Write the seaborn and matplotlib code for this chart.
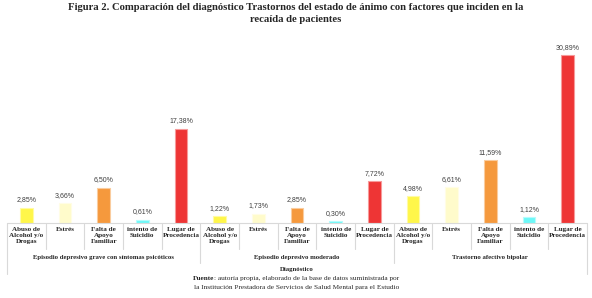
import pandas as pd
import numpy as np
import seaborn as sns
from matplotlib import pyplot as plt
from matplotlib import transforms

sns.set_theme(style="white")
plt.rcParams['font.family'] = ['Liberation Serif', 'DejaVu Serif']

# datos
grupos = ['Episodio depresivo grave con síntomas psicóticos',
          'Episodio depresivo moderado',
          'Trastorno afectivo bipolar']
factores = ['Abuso de\nAlcohol y/o\nDrogas', 'Estrés', 'Falta de\nApoyo\nFamiliar',
            'intento de\nSuicidio', 'Lugar de\nProcedencia']
grave = [2.85, 3.66, 6.50, 0.61, 17.38]
moderado = [1.22, 1.73, 2.85, 0.30, 7.72]
bipolar = [4.98, 6.61, 11.59, 1.12, 30.89]
colores = ['#FFF64A', '#FFFBCB', '#F5993D', '#6CF8F8', '#EE3535']

filas = []
for g, vals in zip(grupos, [grave, moderado, bipolar]):
    for f, v in zip(factores, vals):
        filas.append({'grupo': g, 'factor': f, 'valor': v, 'clave': g + '|' + f})
df = pd.DataFrame(filas)

fig = plt.figure(figsize=(5.92, 2.98), dpi=100)
H = 298.0
W = 592.0
x0, x1 = 7, 587
base, top = 223, 48
ax = fig.add_axes([x0 / W, 1 - base / H, (x1 - x0) / W, (base - top) / H])

sns.barplot(data=df, x='clave', y='valor', hue='factor', palette=colores,
            dodge=False, width=0.32, legend=False, ax=ax, linewidth=0.8,
            saturation=1)
for p in ax.patches:
    fc = np.array(p.get_facecolor()[:3])
    p.set_edgecolor(tuple(fc + (1 - fc) * 0.5))

for c in ax.containers:
    ax.bar_label(c, fmt=lambda v: f"{v:.2f}".replace('.', ',') + '%', padding=3,
                 fontsize=5, color='#404040', family=['Liberation Sans', 'DejaVu Sans'])

ax.set_xlim(-0.5, len(df) - 0.5)
ax.set_ylim(0, 32.2)
ax.set_xticks([])
ax.set_yticks([])
ax.set_xlabel('')
ax.set_ylabel('')
for s in ax.spines.values():
    s.set_visible(False)

tr = transforms.blended_transform_factory(ax.transData, fig.transFigure)
fy = lambda px: 1 - px / H
gris = '#D9D9D9'

ax.plot([-0.5, len(df) - 0.5], [fy(base)] * 2, color=gris, lw=0.8,
        transform=tr, clip_on=False)
for i in range(len(df) + 1):
    xb = i - 0.5
    if i in (0, len(df)):
        y2 = 274
    elif i % 5 == 0:
        y2 = 263
    else:
        y2 = 249
    ax.plot([xb, xb], [fy(base), fy(y2)], color=gris, lw=0.8,
            transform=tr, clip_on=False)

for i, f in enumerate(df['factor']):
    ax.text(i, fy(227), f, transform=tr, ha='center', va='top', fontsize=5.1,
            fontweight='bold', color='#262626', linespacing=1.3)

for k, g in enumerate(grupos):
    ax.text(k * 5 + 2, fy(258), g, transform=tr, ha='center', va='center',
            fontsize=4.9, fontweight='bold', color='#262626')

ax.text(7, fy(269), 'Diagnóstico', transform=tr, ha='center', va='center',
        fontsize=4.9, fontweight='bold', color='#262626')

t1 = fig.text(193 / W, fy(278.5), 'Fuente', ha='left', va='center',
              fontsize=5.2, fontweight='bold', color='#262626')
fig.canvas.draw()
bb = t1.get_window_extent()
fig.text(bb.x1 / W, fy(278.5), ': autoría propia, elaborado de la base de datos suministrada por',
         ha='left', va='center', fontsize=5.2, color='#262626')
fig.text(297 / W, fy(287), 'la Institución Prestadora de Servicios de Salud Mental para el Estudio',
         ha='center', va='center', fontsize=5.2, color='#262626')

fig.text(0.5, fy(8), 'Figura 2. Comparación del diagnóstico Trastornos del estado de ánimo con factores que inciden en la',
         ha='center', va='center', fontsize=7.7, fontweight='bold', color='#262626')
fig.text(0.5, fy(19.5), 'recaída de pacientes',
         ha='center', va='center', fontsize=7.7, fontweight='bold', color='#262626')

fig.savefig('out.png', dpi=100)
